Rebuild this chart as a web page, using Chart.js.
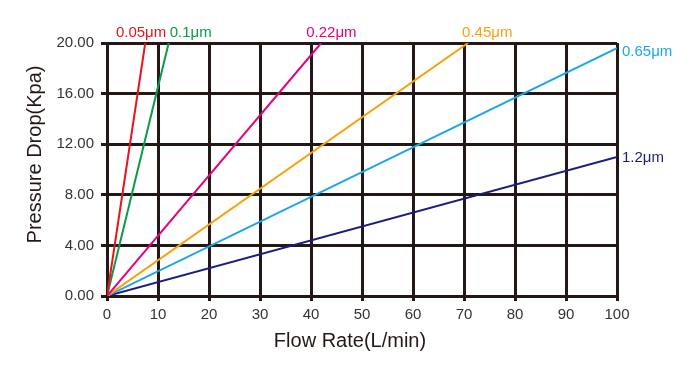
<!DOCTYPE html>
<html><head><meta charset="utf-8">
<script src="https://cdn.jsdelivr.net/npm/chart.js@4/dist/chart.umd.min.js"></script>
<style>html,body{margin:0;padding:0;background:#fff}#wrap{width:700px;height:371px}</style>
</head><body><div id="wrap"><canvas id="c" width="700" height="371"></canvas></div>
<script>
const seriesLabels = ['0.05μm','0.1μm','0.22μm','0.45μm','0.65μm','1.2μm'];
const seriesColors = ['#e8141c','#0b9a48','#e6007e','#f7a20c','#1aa7e8','#1d1b83'];
const endFlow = [7.5, 12.1, 42, 70.8, 100, 100];
const endPressure = [20, 20, 20, 20, 19.6, 11.0];
const xTicks = [0,10,20,30,40,50,60,70,80,90,100];
const yTicks = [0,4,8,12,16,20];
const xTitle = 'Flow Rate(L/min)';
const yTitle = 'Pressure Drop(Kpa)';
const FONT = '"Liberation Sans", Arial, sans-serif';

const datasets = seriesLabels.map((l,i)=>({
  label:l,
  data:[{x:0,y:0},{x:endFlow[i],y:endPressure[i]}],
  borderColor:seriesColors[i], borderWidth:2, pointRadius:0, fill:false, tension:0
}));

const labelPlugin = {
  id:'endLabels',
  afterDatasetsDraw(chart){
    const ctx = chart.ctx, xs = chart.scales.x, ys = chart.scales.y;
    ctx.save();
    ctx.font = '15px ' + FONT;
    seriesLabels.forEach((l,i)=>{
      const px = xs.getPixelForValue(endFlow[i]);
      const py = ys.getPixelForValue(endPressure[i]);
      ctx.fillStyle = seriesColors[i];
      ctx.textAlign = 'left'; ctx.textBaseline = 'alphabetic';
      if (endPressure[i] >= 20) {
        const w = ctx.measureText(l).width;
        let sx = px - w/2;
        if (i===0) sx = px - w + 21;
        if (i===1) sx = px + 1;
        if (i===2) sx = px - 15;
        if (i===3) sx = px - 6;
        ctx.fillText(l, sx, py - 6);
      } else {
        ctx.fillText(l, px + 5, py + (i===4 ? 8 : 5));
      }
    });
    // axis titles
    ctx.fillStyle = '#231815';
    ctx.font = '20px ' + FONT;
    ctx.textAlign = 'center'; ctx.textBaseline = 'alphabetic';
    const ca = chart.chartArea;
    ctx.fillText(xTitle, (ca.left + ca.right)/2 - 12, ca.bottom + 51);
    ctx.translate(41, (ca.top + ca.bottom)/2 - 15);
    ctx.rotate(-Math.PI/2);
    ctx.fillText(yTitle, 0, 0);
    ctx.restore();
  }
};

new Chart(document.getElementById('c'), {
  type:'line',
  data:{datasets},
  plugins:[labelPlugin],
  options:{
    responsive:false, animation:false,
    layout:{padding:{top:43,right:83,left:0,bottom:0}},
    plugins:{legend:{display:false},tooltip:{enabled:false}},
    scales:{
      x:{type:'linear',min:0,max:100,
        afterBuildTicks(s){s.ticks = xTicks.map(v=>({value:v}));},
        afterFit(s){s.height = 75;},
        grid:{color:'#231815',lineWidth:3,tickLength:5,drawTicks:true},
        border:{color:'#231815',width:3},
        ticks:{color:'#333',font:{size:15,family:FONT},padding:5,maxRotation:0},
        title:{display:false}
      },
      y:{type:'linear',min:0,max:20,
        afterBuildTicks(s){s.ticks = yTicks.map(v=>({value:v}));},
        afterFit(s){s.width = 107;},
        grid:{color:'#231815',lineWidth:3,tickLength:6,drawTicks:true},
        border:{color:'#231815',width:3},
        ticks:{color:'#333',font:{size:15,family:FONT},padding:7,callback:v=>v.toFixed(2)},
        title:{display:false}
      }
    }
  }
});
</script></body></html>
